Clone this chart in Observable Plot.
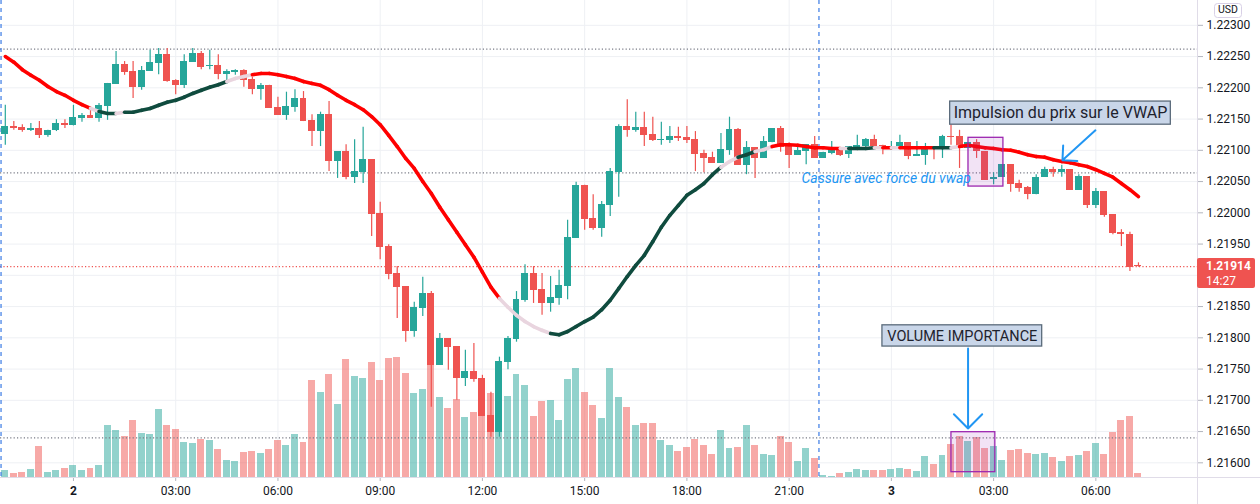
<!DOCTYPE html>
<html><head><meta charset="utf-8">
<script src="https://cdn.jsdelivr.net/npm/d3@7"></script>
<script src="https://cdn.jsdelivr.net/npm/@observablehq/plot@0.6"></script>
<style>
html,body{margin:0;padding:0;background:#fff;}
#chart{width:1260px;height:504px;position:relative;overflow:hidden;}
</style></head><body><div id="chart"></div>
<script>
// ---------- DATA ----------
const startTime = "2021-06-01T22:00:00Z";   // first 15-minute bar
const barMinutes = 15;

const open = [
1.22126,1.22138,1.22137,1.22132,1.22135,1.22124,1.22131,1.22143,1.22140,1.22151,
1.22156,1.22151,1.22170,1.22206,1.22237,1.22226,1.22201,1.22226,1.22239,1.22253,
1.22212,1.22204,1.22241,1.22255,1.22234,1.22236,1.22222,1.22225,1.22228,1.22213,
1.22197,1.22204,1.22169,1.22156,1.22169,1.22183,1.22148,1.22130,1.22157,1.22082,
1.22098,1.22057,1.22064,1.22085,1.21999,1.21946,1.21903,1.21882,1.21810,1.21847,
1.21871,1.21756,1.21799,1.21786,1.21735,1.21746,1.21735,1.21676,1.21649,1.21761,
1.21797,1.21860,1.21903,1.21877,1.21855,1.21863,1.21882,1.21959,1.22044,1.21991,
1.21975,1.22012,1.22064,1.22138,1.22132,1.22137,1.22125,1.22116,1.22116,1.22122,
1.22121,1.22117,1.22095,1.22089,1.22079,1.22100,1.22133,1.22076,1.22104,1.22087,
1.22112,1.22135,1.22106,1.22092,1.22098,1.22109,1.22087,1.22095,1.22103,1.22093,
1.22104,1.22106,1.22117,1.22108,1.22104,1.22104,1.22112,1.22090,1.22092,1.22106,
1.22101,1.22122,1.22122,1.22103,1.22112,1.22098,1.22053,1.22057,1.22077,1.22047,
1.22041,1.22029,1.22057,1.22069,1.22064,1.22069,1.22036,1.22058,1.22012,1.22034,
1.21997,1.21969,1.21965,1.21916];
const high = [
1.22172,1.22146,1.22141,1.22143,1.22146,1.22132,1.22149,1.22149,1.22172,1.22159,
1.22169,1.22175,1.22207,1.22258,1.22242,1.22242,1.22234,1.22260,1.22263,1.22263,
1.22213,1.22253,1.22263,1.22258,1.22260,1.22253,1.22229,1.22229,1.22229,1.22217,
1.22207,1.22204,1.22185,1.22193,1.22197,1.22194,1.22157,1.22161,1.22178,1.22098,
1.22109,1.22117,1.22137,1.22085,1.22017,1.21949,1.21914,1.21882,1.21857,1.21897,
1.21874,1.21807,1.21799,1.21786,1.21780,1.21791,1.21740,1.21713,1.21769,1.21802,
1.21874,1.21917,1.21914,1.21903,1.21898,1.21908,1.21988,1.22049,1.22044,1.22029,
1.22018,1.22071,1.22141,1.22181,1.22161,1.22161,1.22153,1.22145,1.22138,1.22137,
1.22138,1.22130,1.22100,1.22097,1.22127,1.22153,1.22135,1.22114,1.22104,1.22122,
1.22135,1.22138,1.22112,1.22109,1.22109,1.22122,1.22097,1.22114,1.22104,1.22106,
1.22124,1.22119,1.22124,1.22108,1.22114,1.22124,1.22112,1.22114,1.22111,1.22106,
1.22124,1.22141,1.22132,1.22112,1.22117,1.22098,1.22064,1.22077,1.22077,1.22052,
1.22042,1.22061,1.22073,1.22073,1.22076,1.22069,1.22061,1.22058,1.22039,1.22034,
1.21997,1.21973,1.21969,1.21920];
const low = [
1.22108,1.22132,1.22129,1.22130,1.22119,1.22121,1.22130,1.22135,1.22139,1.22145,
1.22151,1.22145,1.22148,1.22206,1.22220,1.22183,1.22196,1.22226,1.22221,1.22209,
1.22189,1.22199,1.22241,1.22229,1.22229,1.22213,1.22206,1.22220,1.22201,1.22189,
1.22180,1.22167,1.22156,1.22148,1.22161,1.22146,1.22106,1.22106,1.22066,1.22055,
1.22053,1.22047,1.22047,1.21962,1.21925,1.21893,1.21831,1.21793,1.21801,1.21834,
1.21689,1.21756,1.21748,1.21700,1.21722,1.21729,1.21674,1.21641,1.21641,1.21749,
1.21793,1.21857,1.21855,1.21836,1.21841,1.21852,1.21861,1.21959,1.21972,1.21972,
1.21961,1.21994,1.22025,1.22121,1.22129,1.22106,1.22114,1.22108,1.22111,1.22114,
1.22111,1.22066,1.22064,1.22079,1.22079,1.22092,1.22076,1.22061,1.22055,1.22087,
1.22112,1.22097,1.22071,1.22092,1.22077,1.22087,1.22087,1.22093,1.22090,1.22087,
1.22104,1.22104,1.22104,1.22093,1.22100,1.22101,1.22085,1.22090,1.22076,1.22085,
1.22087,1.22108,1.22071,1.22103,1.22087,1.22052,1.22045,1.22057,1.22033,1.22033,
1.22021,1.22029,1.22057,1.22057,1.22057,1.22036,1.22036,1.22007,1.22007,1.21993,
1.21965,1.21946,1.21906,1.21913];
const close = [
1.22138,1.22135,1.22132,1.22135,1.22124,1.22132,1.22143,1.22140,1.22153,1.22156,
1.22151,1.22172,1.22207,1.22237,1.22225,1.22201,1.22228,1.22241,1.22253,1.22210,
1.22204,1.22242,1.22255,1.22233,1.22236,1.22222,1.22226,1.22228,1.22212,1.22197,
1.22204,1.22167,1.22156,1.22170,1.22183,1.22146,1.22130,1.22157,1.22082,1.22098,
1.22057,1.22066,1.22085,1.21997,1.21945,1.21901,1.21881,1.21810,1.21849,1.21871,
1.21756,1.21799,1.21785,1.21735,1.21746,1.21733,1.21674,1.21649,1.21762,1.21799,
1.21861,1.21903,1.21876,1.21855,1.21865,1.21884,1.21961,1.22044,1.21989,1.21975,
1.22013,1.22066,1.22138,1.22132,1.22137,1.22124,1.22116,1.22117,1.22122,1.22119,
1.22116,1.22093,1.22087,1.22079,1.22101,1.22133,1.22076,1.22104,1.22087,1.22114,
1.22135,1.22104,1.22092,1.22100,1.22109,1.22087,1.22097,1.22103,1.22092,1.22106,
1.22108,1.22117,1.22106,1.22103,1.22106,1.22112,1.22090,1.22093,1.22106,1.22103,
1.22122,1.22121,1.22103,1.22112,1.22098,1.22052,1.22057,1.22077,1.22045,1.22039,
1.22029,1.22057,1.22069,1.22064,1.22069,1.22036,1.22058,1.22012,1.22034,1.21996,
1.21967,1.21965,1.21913,1.21914];
const volume = [
140,80,100,160,620,100,140,180,240,140,
180,240,1040,940,820,1140,880,860,1360,1040,
960,700,680,760,740,560,340,320,500,520,
480,560,740,640,860,700,1940,1700,2060,1460,
2360,2020,1980,2300,1940,2380,2400,2080,1680,1760,
2400,1600,1380,1560,1200,1300,1440,1680,1700,1620,
2060,1840,1220,1520,1540,1140,1960,2180,1700,1440,
1180,2180,1600,1400,1040,1080,1080,740,640,520,
600,760,640,460,940,580,600,1040,640,460,
440,820,700,320,580,380,40,20,80,100,
160,140,140,140,160,180,160,120,420,260,
440,660,820,720,800,580,620,340,540,560,
480,460,480,400,320,420,440,520,680,460,
900,1140,1220,80];
const vwap = [
1.22250,1.22241,1.22229,1.22220,1.22212,1.22202,1.22194,1.22188,1.22180,1.22173,
1.22167,1.22162,1.22159,1.22159,1.22161,1.22161,1.22164,1.22167,1.22172,1.22177,
1.22180,1.22185,1.22191,1.22196,1.22201,1.22205,1.22210,1.22215,1.22218,1.22221,
1.22223,1.22223,1.22221,1.22218,1.22215,1.22210,1.22207,1.22204,1.22197,1.22188,
1.22180,1.22173,1.22165,1.22154,1.22141,1.22124,1.22106,1.22087,1.22071,1.22050,
1.22031,1.22009,1.21989,1.21969,1.21949,1.21929,1.21905,1.21881,1.21863,1.21849,
1.21836,1.21826,1.21818,1.21812,1.21807,1.21805,1.21810,1.21818,1.21826,1.21833,
1.21845,1.21860,1.21879,1.21898,1.21916,1.21932,1.21954,1.21977,1.21996,1.22012,
1.22028,1.22037,1.22047,1.22061,1.22073,1.22082,1.22089,1.22093,1.22098,1.22101,
1.22106,1.22109,1.22109,1.22108,1.22106,1.22104,1.22104,1.22103,1.22103,1.22103,
1.22103,1.22103,1.22104,1.22104,1.22104,1.22104,1.22104,1.22104,1.22104,1.22104,
1.22104,1.22104,1.22106,1.22108,1.22106,1.22104,1.22103,1.22101,1.22100,1.22097,
1.22093,1.22090,1.22089,1.22085,1.22082,1.22080,1.22077,1.22074,1.22069,1.22063,
1.22057,1.22047,1.22037,1.22026];
// VWAP trend colouring as runs: r = falling, g = rising, p = neutral
const vwapRuns = [["r",11],["p",1],["g",2],["p",1],["g",12],["p",3],["r",29],["p",6],["g",20],
  ["p",2],["g",2],["p",2],["r",8],["p",1],["g",3],["p",1],["r",1],["p",1],["r",4],["g",2],["p",1],["r",21]];

const yTicks = [1.216,1.2165,1.217,1.2175,1.218,1.2185,1.219,1.2195,1.22,1.2205,1.221,1.2215,1.222,1.2225,1.223];
const xTicks = ["2021-06-02T00:00Z","2021-06-02T03:00Z","2021-06-02T06:00Z","2021-06-02T09:00Z",
  "2021-06-02T12:00Z","2021-06-02T15:00Z","2021-06-02T18:00Z","2021-06-02T21:00Z",
  "2021-06-03T00:00Z","2021-06-03T03:00Z","2021-06-03T06:00Z"];
const sessionStarts = ["2021-06-01T22:00Z","2021-06-02T22:00Z"];
const levels = [1.22262, 1.22064, 1.21640];
const lastPrice = 1.21914;
const countdown = "14:27";

// annotations (bar index, price)
const boxes = [
  {label: "Impulsion du prix sur le VWAP", u1: 110.9, u2: 136.8, p1: 1.22178, p2: 1.22141},
  {label: "VOLUME IMPORTANCE", u1: 102.95, u2: 121.7, p1: 1.21820, p2: 1.21786}
];
const zones = [
  {u1: 113.05, u2: 117.15, p1: 1.22120, p2: 1.22042},
  {u1: 111.05, u2: 116.2, p1: 1.21649, p2: 1.21585}
];
const arrowImpulse = [{u1: 127.95, p1: 1.22132, u2: 124.08, p2: 1.22084}];
const arrowVolume = [{u1: 113.0, p1: 1.21783, u2: 113.0, p2: 1.21655}];
const notes = [{label: "Cassure avec force du vwap", u: 93.45, p: 1.22055}];

// ---------- BUILD ----------
const T0 = Date.parse(startTime);
const t = u => new Date(T0 + u * barMinutes * 60000);
const half = 0.41;
const minBody = 0.000016;
const candles = open.map((o, i) => {
  const c = close[i];
  let lo = Math.min(o, c), hi = Math.max(o, c);
  if (hi - lo < minBody) { const m = (hi + lo) / 2; lo = m - minBody / 2; hi = m + minBody / 2; }
  return {i, t: t(i), open: o, high: high[i], low: low[i], close: c, vol: volume[i], up: c >= o, lo, hi};
});
const trend = vwapRuns.flatMap(([s, n]) => Array(n).fill(s));
const segs = vwap.slice(1).map((v, k) => ({x1: t(k), y1: vwap[k], x2: t(k + 1), y2: v, s: trend[k + 1]}));
const trendColor = {r: "#ff0000", g: "#0f4b3e", p: "#e9d5df"};
const UP = "#26a69a", DOWN = "#ef5350";
const yDomain = [1.215765, 1.223397];
const volK = (yDomain[1] - yDomain[0]) * 0.2516 / d3.max(volume);
const fmtTime = d => d.getUTCHours() === 0 ? String(d.getUTCDate()) : d3.utcFormat("%H:%M")(d);
const xTickDates = xTicks.map(s => new Date(s));
// the 1.21900 label sits under the live price tag, as in the original
const yLabelTicks = yTicks.filter(v => Math.abs(v - 1.219) > 1e-9);
const boxText = (d, size) => Plot.text([d], {x: e => t((e.u1 + e.u2) / 2), y: e => (e.p1 + e.p2) / 2, text: "label", fontSize: size, fill: "#1e222d"});

const plot = Plot.plot({
  width: 1260, height: 504,
  marginLeft: 0, marginRight: 63, marginTop: 0, marginBottom: 27,
  x: {type: "utc", domain: [t(-0.5634), t(139.93)]},
  y: {domain: yDomain},
  style: {fontFamily: "Roboto, 'Noto Sans', sans-serif", fontSize: "12px", color: "#131722", background: "#ffffff"},
  marks: [
    Plot.gridY(yTicks, {stroke: "#eef0f4", strokeOpacity: 1}),
    Plot.gridX(xTickDates, {stroke: "#eef0f4", strokeOpacity: 1}),
    // volume
    Plot.rect(candles, {x1: d => t(d.i - half), x2: d => t(d.i + half), y1: d => yDomain[0], y2: d => yDomain[0] + d.vol * volK,
      fill: d => d.up ? "rgba(38,166,154,0.5)" : "rgba(239,83,80,0.5)", shapeRendering: "crispEdges"}),
    // levels
    Plot.ruleY(levels, {stroke: "#787b86", strokeDasharray: "1.2,2.2", strokeWidth: 1.2}),
    Plot.ruleY([lastPrice], {stroke: "#ef5350", strokeDasharray: "1.2,2.2", strokeWidth: 1.2}),
    Plot.ruleX(sessionStarts, {x: d => new Date(Date.parse(d) - barMinutes * 30000), stroke: "#4985e7", strokeDasharray: "4,4", strokeWidth: 1.3}),
    // candles
    Plot.ruleX(candles, {x: "t", y1: "low", y2: "high", stroke: d => d.up ? UP : DOWN, strokeWidth: 1.2}),
    Plot.rect(candles, {x1: d => t(d.i - half), x2: d => t(d.i + half), y1: "lo", y2: "hi", fill: d => d.up ? UP : DOWN, shapeRendering: "crispEdges"}),
    // vwap
    Plot.link(segs, {x1: "x1", y1: "y1", x2: "x2", y2: "y2", stroke: d => trendColor[d.s], strokeWidth: 3.6, strokeLinecap: "round"}),
    // annotations
    Plot.rect(zones, {x1: d => t(d.u1), x2: d => t(d.u2), y1: "p1", y2: "p2", fill: "rgba(156,39,176,0.13)", stroke: "#9c27b0", strokeWidth: 1.3}),
    Plot.rect(boxes, {x1: d => t(d.u1), x2: d => t(d.u2), y1: "p1", y2: "p2", fill: "#c9d6e9", stroke: "#5b6b7b", strokeWidth: 1.3}),
    boxText(boxes[0], 16),
    boxText(boxes[1], 14.5),
    Plot.text(notes, {x: d => t(d.u), y: "p", text: "label", textAnchor: "start", fontSize: 14, fontStyle: "italic", fill: "#2196f3"}),
    Plot.arrow(arrowImpulse, {x1: d => t(d.u1), y1: "p1", x2: d => t(d.u2), y2: "p2", stroke: "#2196f3", strokeWidth: 2, headAngle: 90, headLength: 13}),
    Plot.arrow(arrowVolume, {x1: d => t(d.u1), y1: "p1", x2: d => t(d.u2), y2: "p2", stroke: "#2196f3", strokeWidth: 2, headAngle: 90, headLength: 15}),
    // axes
    Plot.axisX(xTickDates, {tickFormat: fmtTime, tickSize: 4, tickPadding: 5, stroke: "#b2b5be", fill: "#131722", fontSize: 12, label: null}),
    Plot.axisY(yLabelTicks, {anchor: "right", tickFormat: d => d.toFixed(5), tickSize: 5, tickPadding: 4, stroke: "#b2b5be", fill: "#131722", fontSize: 12, label: null})
  ]
});
document.getElementById("chart").appendChild(plot);

// ---------- chrome ----------
const svg = d3.select(plot);
svg.selectAll("text").filter(function(){ return /^\d+$/.test(this.textContent); }).attr("font-weight", "bold");
svg.append("line").attr("x1", 1197.5).attr("x2", 1197.5).attr("y1", 0).attr("y2", 504).attr("stroke", "#e0dce8");
svg.append("line").attr("x1", 0).attr("x2", 1260).attr("y1", 477.5).attr("y2", 477.5).attr("stroke", "#e0dce8");
const yp = plot.scale("y").apply(lastPrice);
const g = svg.append("g").attr("text-anchor", "start");
g.append("rect").attr("x", 1197).attr("y", yp - 8).attr("width", 58).attr("height", 30).attr("rx", 2).attr("fill", "#ef5350");
g.append("text").attr("x", 1206).attr("y", yp + 1).attr("dominant-baseline", "middle").attr("fill", "#fff")
  .attr("font-size", 12).attr("font-weight", "bold").text(lastPrice.toFixed(5));
g.append("text").attr("x", 1206).attr("y", yp + 16).attr("dominant-baseline", "middle").attr("fill", "#fff")
  .attr("font-size", 12).text(countdown);
const u = svg.append("g").attr("text-anchor", "middle");
u.append("rect").attr("x", 1214.5).attr("y", 3.5).attr("width", 27).attr("height", 14).attr("rx", 3).attr("fill", "#fff").attr("stroke", "#d8d0e6");
u.append("text").attr("x", 1228).attr("y", 10.5).attr("dominant-baseline", "middle").attr("font-size", 10.5).attr("fill", "#131722").text("USD");
</script></body></html>
